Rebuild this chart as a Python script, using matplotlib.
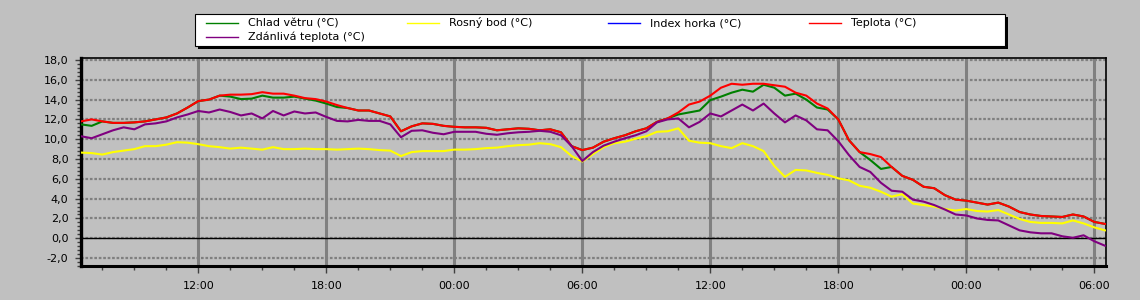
import numpy as np
import matplotlib
matplotlib.use("Agg")
import matplotlib.pyplot as plt
from matplotlib.lines import Line2D
from matplotlib.patches import Rectangle
from matplotlib.ticker import MultipleLocator, FixedLocator, FuncFormatter

plt.rcParams.update({"font.family": ["DejaVu Sans"], "font.size": 8})

# half-hour samples, hours counted from midnight of the first day (06:30 .. 06:30 two days later)
hours = np.arange(6.5, 54.51, 0.5)

teplota = [
    11.8, 12.0, 11.8, 11.65, 11.65, 11.7, 11.8, 12.0, 12.2, 12.6, 13.2,           # 06:30-11:30
    13.85, 14.0, 14.4, 14.5, 14.5, 14.55, 14.75, 14.6, 14.6, 14.4, 14.15, 14.05,  # 12:00-17:30
    13.8, 13.45, 13.15, 12.9, 12.9, 12.6, 12.3, 10.8, 11.3, 11.6, 11.55, 11.35,   # 18:00-23:30
    11.25, 11.2, 11.2, 11.15, 10.9, 11.0, 11.1, 11.05, 10.9, 11.0, 10.7, 9.3,     # 00:00-05:30
    8.9, 9.15, 9.75, 10.1, 10.4, 10.8, 11.1, 11.75, 12.1, 12.7, 13.5, 13.8,       # 06:00-11:30
    14.4, 15.2, 15.6, 15.5, 15.6, 15.6, 15.45, 15.3, 14.7, 14.4, 13.6, 13.1,      # 12:00-17:30
    12.0, 9.9, 8.7, 8.5, 8.2, 7.2, 6.3, 5.9, 5.2, 5.05, 4.35, 3.9,                # 18:00-23:30
    3.8, 3.6, 3.4, 3.6, 3.2, 2.65, 2.4, 2.25, 2.2, 2.15, 2.4, 2.2,                # 00:00-05:30
    1.65, 1.45,                                                                   # 06:00-06:30
]
chlad_vetru = [
    11.5, 11.35, 11.8, 11.65, 11.65, 11.7, 11.8, 12.0, 12.2, 12.6, 13.2,
    13.85, 14.0, 14.4, 14.3, 14.05, 14.1, 14.4, 14.2, 14.2, 14.3, 14.1, 13.9,
    13.6, 13.25, 13.15, 12.9, 12.9, 12.6, 12.3, 10.8, 11.3, 11.6, 11.55, 11.35,
    11.25, 11.2, 11.2, 11.15, 10.9, 11.0, 11.1, 11.05, 10.9, 11.0, 10.7, 9.3,
    8.9, 9.15, 9.75, 10.1, 10.4, 10.8, 11.1, 11.75, 12.1, 12.5, 12.7, 12.9,
    13.95, 14.3, 14.7, 15.0, 14.8, 15.5, 15.2, 14.4, 14.6, 14.0, 13.2, 13.0,
    12.0, 9.9, 8.7, 7.9, 7.0, 7.2, 6.3, 5.9, 5.2, 5.05, 4.35, 3.9,
    3.8, 3.6, 3.4, 3.6, 3.2, 2.65, 2.4, 2.25, 2.2, 2.15, 2.4, 2.2,
    1.65, 1.45,
]
rosny_bod = [
    8.65, 8.6, 8.45, 8.7, 8.85, 9.0, 9.3, 9.3, 9.45, 9.7, 9.65,
    9.5, 9.3, 9.2, 9.05, 9.15, 9.05, 8.95, 9.2, 9.0, 9.0, 9.05, 9.0,
    9.0, 8.95, 9.0, 9.05, 9.0, 8.9, 8.85, 8.3, 8.7, 8.8, 8.8, 8.8,
    8.95, 8.95, 9.0, 9.1, 9.15, 9.3, 9.4, 9.45, 9.6, 9.5, 9.2, 8.3,
    7.75, 8.5, 9.2, 9.6, 9.75, 10.05, 10.3, 10.75, 10.8, 11.1, 9.85, 9.65,
    9.6, 9.3, 9.1, 9.6, 9.3, 8.8, 7.3, 6.2, 6.9, 6.85, 6.6, 6.4,
    6.05, 5.85, 5.3, 5.1, 4.7, 4.2, 4.45, 3.5, 3.35, 3.2, 2.95, 2.8,
    2.95, 2.75, 2.7, 2.85, 2.4, 1.95, 1.65, 1.55, 1.55, 1.5, 1.8, 1.5,
    1.1, 0.8,
]
zdanliva_teplota = [
    10.3, 10.1, 10.5, 10.9, 11.2, 11.0, 11.5, 11.6, 11.8, 12.2, 12.5,
    12.85, 12.7, 13.0, 12.75, 12.4, 12.6, 12.1, 12.85, 12.4, 12.8, 12.6, 12.7,
    12.25, 11.85, 11.8, 11.95, 11.85, 11.85, 11.5, 10.2, 10.85, 10.9, 10.65, 10.5,
    10.75, 10.75, 10.75, 10.55, 10.45, 10.6, 10.7, 10.75, 10.85, 10.75, 10.4, 9.3,
    7.8, 8.7, 9.35, 9.75, 10.1, 10.4, 10.8, 11.7, 12.0, 12.1, 11.2, 11.75,
    12.6, 12.3, 12.9, 13.5, 12.9, 13.6, 12.6, 11.7, 12.4, 11.9, 11.0, 10.9,
    9.8, 8.4, 7.2, 6.7, 5.6, 4.8, 4.7, 3.9, 3.7, 3.35, 2.9, 2.4,
    2.3, 2.0, 1.85, 1.8, 1.3, 0.8, 0.6, 0.5, 0.5, 0.2, 0.05, 0.3,
    -0.3, -0.75,
]
index_horka = []  # no values in the reference

labels = ["Chlad větru (°C)", "Rosný bod (°C)", "Index horka (°C)",
          "Teplota (°C)", "Zdánlivá teplota (°C)"]
colors = ["#008000", "#FFFF00", "#0000FF", "#FF0000", "#800080"]
values = [chlad_vetru, rosny_bod, index_horka, teplota, zdanliva_teplota]

tick_hours = [12, 18, 24, 30, 36, 42, 48, 54]
tick_labels = ["12:00", "18:00", "00:00", "06:00", "12:00", "18:00", "00:00", "06:00"]

BG = "#C0C0C0"
W, H = 1140, 300
fig = plt.figure(figsize=(W / 100, H / 100), dpi=100, facecolor=BG)
ax = fig.add_axes([81 / W, 1 - 266 / H, (1106 - 81) / W, (266 - 58) / H])
ax.set_facecolor(BG)

# grid: solid vertical every 6 h, dotted horizontal every 2 degrees
for h in tick_hours:
    ax.axvline(h, color="#808080", lw=2.2, zorder=1)
for v in range(-2, 19, 2):
    ax.axhline(v, color="#808080", lw=1.6, ls=(0, (1.2, 0.8)), zorder=1)
ax.axhline(0, color="black", lw=1.0, zorder=1.5)

# draw order: green, yellow, blue, red, purple
for lab, col, vals in zip(labels, colors, values):
    ax.plot(hours[:len(vals)], vals, color=col, lw=1.5, zorder=3)

ax.set_xlim(6.5, 54.55)
ax.set_ylim(-2.8, 18.2)
ax.xaxis.set_major_locator(FixedLocator(tick_hours))
ax.set_xticklabels(tick_labels)
ax.xaxis.set_minor_locator(MultipleLocator(1.5))
ax.yaxis.set_major_locator(MultipleLocator(2))
ax.yaxis.set_minor_locator(MultipleLocator(0.4))
ax.yaxis.set_major_formatter(FuncFormatter(lambda v, p: f"{v:.1f}".replace(".", ",")))
ax.tick_params(which="both", direction="out", color="#404040", width=1)
ax.tick_params(axis="y", which="major", length=4, pad=5)
ax.tick_params(axis="y", which="minor", length=3)
ax.tick_params(axis="x", which="major", length=5, pad=6)
ax.tick_params(axis="x", which="minor", length=3)
for side, lw in [("left", 2.4), ("bottom", 2.2), ("top", 1.2), ("right", 1.2)]:
    ax.spines[side].set_linewidth(lw)
    ax.spines[side].set_color("black")

# legend box drawn like the original (white box, black drop shadow, equal columns)
def fx(px):
    return px / W

def fy(py):
    return 1 - py / H

fig.patches.append(Rectangle((fx(198), fy(49)), fx(810), 32 / H, transform=fig.transFigure,
                             facecolor="black", edgecolor="none", zorder=1))
fig.patches.append(Rectangle((fx(195), fy(46)), fx(810), 32 / H, transform=fig.transFigure,
                             facecolor="white", edgecolor="black", lw=0.8, zorder=2))
for i, (lab, col) in enumerate(zip(labels, colors)):
    x0 = 206 + (i % 4) * 201
    y0 = 23 + (i // 4) * 13.5
    fig.lines.append(Line2D([fx(x0), fx(x0 + 32)], [fy(y0), fy(y0)], color=col, lw=1.0,
                            transform=fig.transFigure, zorder=3))
    fig.text(fx(x0 + 42), fy(y0), lab, va="center", ha="left", fontsize=8, zorder=3)

fig.savefig("out.png", dpi=100, facecolor=BG)
